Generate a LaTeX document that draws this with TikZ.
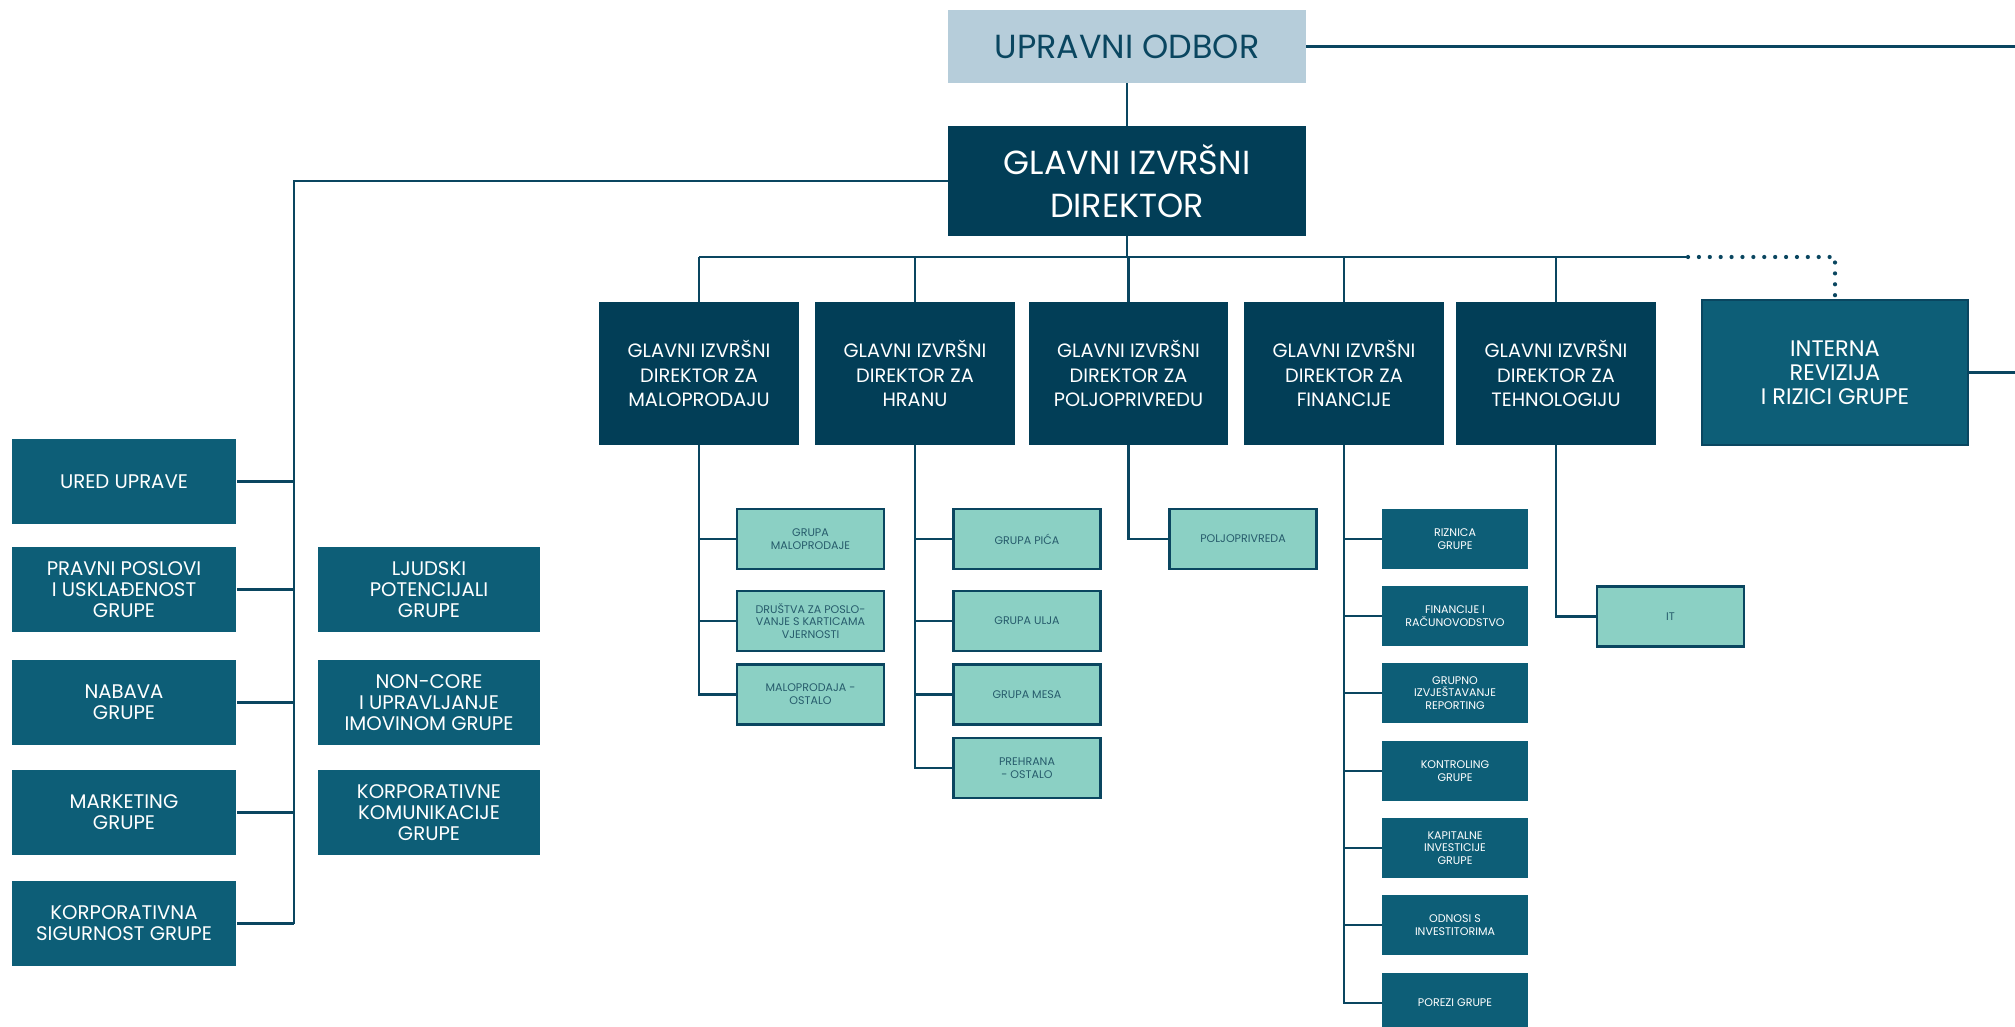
\documentclass[tikz,border=0pt]{standalone}
\usepackage{fontspec}
\setmainfont{Poppins}
\usepackage{xcolor}
\usepackage{tikz}

\definecolor{boardgrey}{HTML}{B6CDDA}
\definecolor{chiefblue}{HTML}{023E57}
\definecolor{staffteal}{HTML}{0D5E77}
\definecolor{unitmint}{HTML}{8BD0C4}
\definecolor{linkblue}{HTML}{0A4660}
\definecolor{minttext}{HTML}{275C6C}

\begin{document}
\begin{tikzpicture}[x=0.02cm, y=-0.02cm,
  box/.style={rectangle, inner sep=0pt, align=center, text=white},
  board/.style={box, fill=boardgrey, text=linkblue, minimum width=7.16cm, minimum height=1.46cm,
    font=\fontsize{19}{22}\selectfont},
  chief/.style={box, fill=chiefblue, minimum width=7.16cm, minimum height=2.2cm,
    font=\fontsize{19}{24.6}\selectfont},
  director/.style={box, fill=chiefblue, minimum width=4cm, minimum height=2.86cm,
    font=\fontsize{11}{13.8}\selectfont},
  audit/.style={box, fill=staffteal, draw=linkblue, line width=1.4pt, minimum width=5.32cm,
    minimum height=2.9cm, font=\fontsize{12.8}{13.6}\selectfont},
  staff/.style={box, fill=staffteal, minimum width=4.5cm, minimum height=1.7cm,
    font=\fontsize{11.2}{12}\selectfont},
  unit/.style={box, fill=unitmint, draw=linkblue, line width=1.3pt, text=minttext,
    minimum width=2.94cm, minimum height=1.2cm, font=\fontsize{6.3}{7.3}\selectfont},
  finunit/.style={box, fill=staffteal, minimum width=2.92cm, minimum height=1.2cm,
    font=\fontsize{6.3}{7.3}\selectfont},
  link/.style={draw=linkblue, line width=1.3pt}]
\useasboundingbox (0,0) rectangle (2015,1027);
% board and chief executive
\node[board] (odbor) at (1127,46.5) {UPRAVNI ODBOR};
\node[chief] (ceo) at (1127,181) {GLAVNI IZVRŠNI\\DIREKTOR};
\coordinate (rim) at (2015,0);
\coordinate (bus) at (0,257);
\coordinate (busend) at (1688,257);
% executive directors
\node[director] (mal) at (699,373.5) {GLAVNI IZVRŠNI\\DIREKTOR ZA\\MALOPRODAJU};
\node[director] (hranu) at (915,373.5) {GLAVNI IZVRŠNI\\DIREKTOR ZA\\HRANU};
\node[director] (polj) at (1128.5,373.5) {GLAVNI IZVRŠNI\\DIREKTOR ZA\\POLJOPRIVREDU};
\node[director] (fin) at (1344,373.5) {GLAVNI IZVRŠNI\\DIREKTOR ZA\\FINANCIJE};
\node[director] (tech) at (1556,373.5) {GLAVNI IZVRŠNI\\DIREKTOR ZA\\TEHNOLOGIJU};
\node[audit] (interna) at (1835,372.5) {INTERNA\\REVIZIJA\\I RIZICI GRUPE};
% staff functions
\node[staff] (ured) at (124,481.5) {URED UPRAVE};
\node[staff] (pravni) at (124,589.5) {PRAVNI POSLOVI\\I USKLAĐENOST\\GRUPE};
\node[staff] (nabava) at (124,702.5) {NABAVA\\GRUPE};
\node[staff] (marketing) at (124,812.5) {MARKETING\\GRUPE};
\node[staff] (sigurnost) at (124,923.5) {KORPORATIVNA\\SIGURNOST GRUPE};
\node[staff, minimum width=4.44cm] (ljudski) at (429,589.5) {LJUDSKI\\POTENCIJALI\\GRUPE};
\node[staff, minimum width=4.44cm] (noncore) at (429,702.5) {NON-CORE\\I UPRAVLJANJE\\IMOVINOM GRUPE};
\node[staff, minimum width=4.44cm] (komunik) at (429,812.5) {KORPORATIVNE\\KOMUNIKACIJE\\GRUPE};
\coordinate (spine) at (294,924);
% business units
\node[unit] (grmal) at (810.5,539) {GRUPA\\MALOPRODAJE};
\node[unit] (drustva) at (810.5,621) {DRUŠTVA ZA POSLO-\\VANJE S KARTICAMA\\VJERNOSTI};
\node[unit] (malost) at (810.5,694.5) {MALOPRODAJA -\\OSTALO};
\node[unit] (pica) at (1027,539) {GRUPA PIĆA};
\node[unit] (ulja) at (1027,621) {GRUPA ULJA};
\node[unit] (mesa) at (1027,694.5) {GRUPA MESA};
\node[unit] (prehrana) at (1027,768) {PREHRANA\\- OSTALO};
\node[unit] (poljop) at (1243,539) {POLJOPRIVREDA};
\node[finunit] (riznica) at (1455,539) {RIZNICA\\GRUPE};
\node[finunit] (racun) at (1455,616) {FINANCIJE I\\RAČUNOVODSTVO};
\node[finunit] (grupno) at (1455,693) {GRUPNO\\IZVJEŠTAVANJE\\REPORTING};
\node[finunit] (kontroling) at (1455,771) {KONTROLING\\GRUPE};
\node[finunit] (kapital) at (1455,848) {KAPITALNE\\INVESTICIJE\\GRUPE};
\node[finunit] (odnosi) at (1455,925) {ODNOSI S\\INVESTITORIMA};
\node[finunit] (porezi) at (1455,1003) {POREZI GRUPE};
\node[unit] (it) at (1670.5,616.5) {IT};
% connectors
\draw[link] (odbor.south) -- (ceo.north);
\draw[link] (odbor.east) -- (odbor.east -| rim);
\draw[link] (interna.east) -- (interna.east -| rim);
\draw[link] (ceo.south) -- (ceo.south |- bus);
\draw[link] (mal.north |- bus) -- (busend);
\draw[draw=linkblue, line width=2.4pt, line cap=round, dash pattern=on 0pt off 6.2pt]
  (busend) -- (interna.north |- bus) -- (interna.north);
\foreach \d in {mal,hranu,polj,fin,tech}
  \draw[link] (\d.north) -- (\d.north |- bus);
\draw[link] (ceo.west) -| (spine);
\foreach \s in {ured,pravni,nabava,marketing,sigurnost}
  \draw[link] (\s.east) -- (\s.east -| spine);
\draw[link] (mal.south) |- (malost.west);
\foreach \u in {grmal,drustva}
  \draw[link] (\u.west) -- (\u.west -| mal.south);
\draw[link] (hranu.south) |- (prehrana.west);
\foreach \u in {pica,ulja,mesa}
  \draw[link] (\u.west) -- (\u.west -| hranu.south);
\draw[link] (polj.south) |- (poljop.west);
\draw[link] (fin.south) |- (porezi.west);
\foreach \u in {riznica,racun,grupno,kontroling,kapital,odnosi}
  \draw[link] (\u.west) -- (\u.west -| fin.south);
\draw[link] (tech.south) |- (it.west);
\end{tikzpicture}
\end{document}
